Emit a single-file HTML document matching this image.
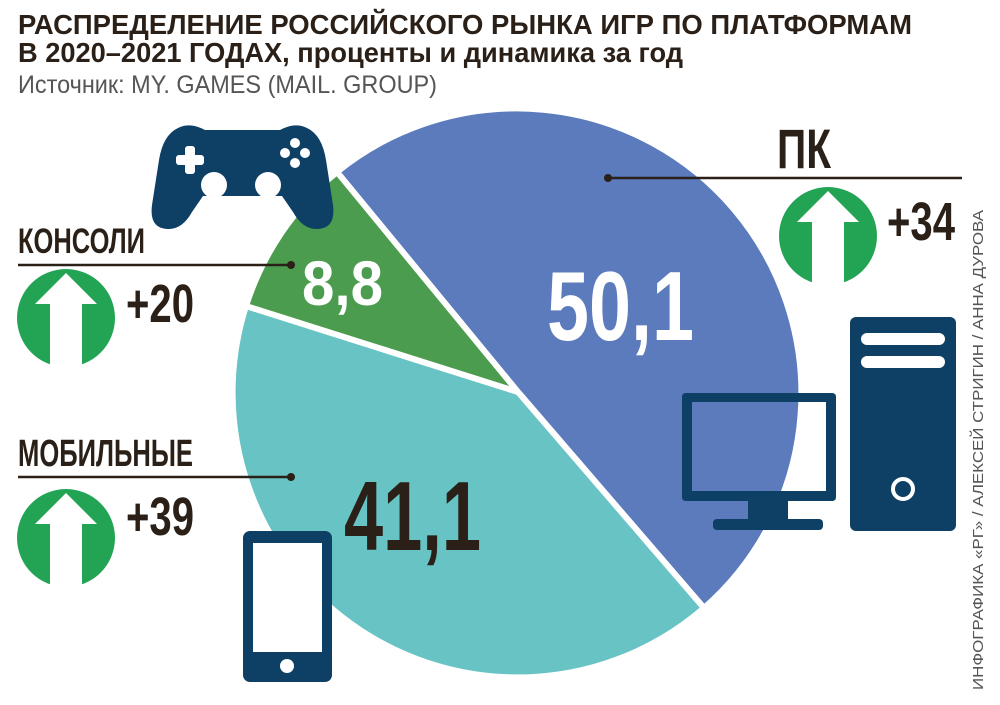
<!DOCTYPE html>
<html><head><meta charset="utf-8"><style>
html,body{margin:0;padding:0;background:#fff;}
svg{display:block;}
text{font-family:"Liberation Sans","Noto Sans CJK SC",sans-serif;}
</style></head><body>
<svg width="1000" height="705" viewBox="0 0 1000 705" xmlns="http://www.w3.org/2000/svg">
<!-- titles -->
<text x="18" y="34" font-size="28" font-weight="bold" fill="#2a2018" textLength="894" lengthAdjust="spacingAndGlyphs">РАСПРЕДЕЛЕНИЕ РОССИЙСКОГО РЫНКА ИГР ПО ПЛАТФОРМАМ</text>
<text x="18" y="62" font-size="28" font-weight="bold" fill="#2a2018" textLength="665" lengthAdjust="spacingAndGlyphs">В 2020–2021 ГОДАХ, проценты и динамика за год</text>
<text x="18" y="93" font-size="25" fill="#555" textLength="419" lengthAdjust="spacingAndGlyphs">Источник: MY. GAMES (MAIL. GROUP)</text>

<!-- pie -->
<g stroke="#fff" stroke-width="6" stroke-linejoin="round">
<path d="M518,392 L337,172 A285,285 0 0 1 704,608 Z" fill="#5b7bbd"/>
<path d="M518,392 L704,608 A285,285 0 0 1 246,306 Z" fill="#67c3c4"/>
<path d="M518,392 L246,306 A285,285 0 0 1 337,172 Z" fill="#4c9c4f"/>
</g>

<!-- big numbers -->
<text x="547" y="340" font-size="98" font-weight="bold" fill="#fff" textLength="147" lengthAdjust="spacingAndGlyphs">50,1</text>
<text x="302" y="305" font-size="63" font-weight="bold" fill="#fff" textLength="81" lengthAdjust="spacingAndGlyphs">8,8</text>
<text x="344" y="550" font-size="98" font-weight="bold" fill="#2a2018" textLength="137" lengthAdjust="spacingAndGlyphs">41,1</text>

<!-- gamepad -->
<g fill="#0d4064">
<path d="M178,128 Q190,122 205,130 L280,130 Q295,122 307,128 Q322,135 326,160 L333,205 Q336,228 318,229 Q303,230 293,212 L282,196 L203,196 L192,212 Q182,230 167,229 Q149,228 152,205 L159,160 Q163,135 178,128 Z"/>
</g>
<g fill="#fff">
<rect x="176" y="155" width="28" height="10" rx="3"/>
<rect x="185" y="146" width="10" height="28" rx="3"/>
<circle cx="295" cy="143" r="5"/><circle cx="295" cy="163" r="5"/>
<circle cx="285" cy="153" r="5"/><circle cx="305" cy="153" r="5"/>
<circle cx="214" cy="185" r="13"/><circle cx="268" cy="185" r="13"/>
</g>

<!-- monitor -->
<g fill="#0d4064">
<path fill-rule="evenodd" d="M686,393 H832 Q836,393 836,397 V497 Q836,501 832,501 H686 Q682,501 682,497 V397 Q682,393 686,393 Z M692,402 V491 H826 V402 Z"/>
<rect x="748" y="501" width="40" height="20"/>
<rect x="713" y="519" width="110" height="11" rx="4"/>
</g>

<!-- tower -->
<rect x="850" y="317" width="106" height="214" rx="6" fill="#0d4064"/>
<rect x="861" y="333" width="84" height="12" rx="6" fill="#fff"/>
<rect x="861" y="356" width="84" height="12" rx="6" fill="#fff"/>
<circle cx="903" cy="489" r="10" fill="none" stroke="#fff" stroke-width="4"/>

<!-- phone -->
<rect x="243" y="531" width="89" height="151" rx="7" fill="#0d4064"/>
<rect x="253" y="543" width="69" height="109" fill="#fff"/>
<circle cx="287" cy="666" r="7" fill="#fff"/>

<!-- labels & leader lines -->
<g fill="#2a2018">
<text x="777" y="168" font-size="56" font-weight="bold" textLength="54" lengthAdjust="spacingAndGlyphs">ПК</text>
<text x="18" y="253" font-size="35" font-weight="bold" textLength="127" lengthAdjust="spacingAndGlyphs">КОНСОЛИ</text>
<text x="18" y="466" font-size="38" font-weight="bold" textLength="175" lengthAdjust="spacingAndGlyphs">МОБИЛЬНЫЕ</text>
<text x="887" y="240" font-size="54" font-weight="bold" textLength="68" lengthAdjust="spacingAndGlyphs">+34</text>
<text x="126" y="322" font-size="54" font-weight="bold" textLength="68" lengthAdjust="spacingAndGlyphs">+20</text>
<text x="126" y="535" font-size="54" font-weight="bold" textLength="68" lengthAdjust="spacingAndGlyphs">+39</text>
</g>
<g stroke="#2a2018" stroke-width="2.5">
<line x1="608" y1="178" x2="962" y2="178"/>
<line x1="18" y1="265" x2="291" y2="265"/>
<line x1="18" y1="477" x2="291" y2="477"/>
</g>
<g fill="#2a2018">
<circle cx="608" cy="178" r="4"/>
<circle cx="291" cy="265" r="4"/>
<circle cx="291" cy="477" r="4"/>
</g>

<!-- arrows -->
<g>
<circle cx="828" cy="236" r="49" fill="#23a455"/>
<path d="M828,191 L859,222 H844 V290 H812 V222 H797 Z" fill="#fff"/>
<circle cx="66" cy="318" r="49" fill="#23a455"/>
<path d="M66,273 L97,304 H82 V372 H50 V304 H35 Z" fill="#fff"/>
<circle cx="66" cy="538" r="49" fill="#23a455"/>
<path d="M66,493 L97,524 H82 V592 H50 V524 H35 Z" fill="#fff"/>
</g>

<!-- credits -->
<text transform="translate(983,690) rotate(-90)" font-size="15" fill="#555" textLength="480" lengthAdjust="spacingAndGlyphs">ИНФОГРАФИКА «РГ» / АЛЕКСЕЙ СТРИГИН / АННА ДУРОВА</text>
</svg>
</body></html>
